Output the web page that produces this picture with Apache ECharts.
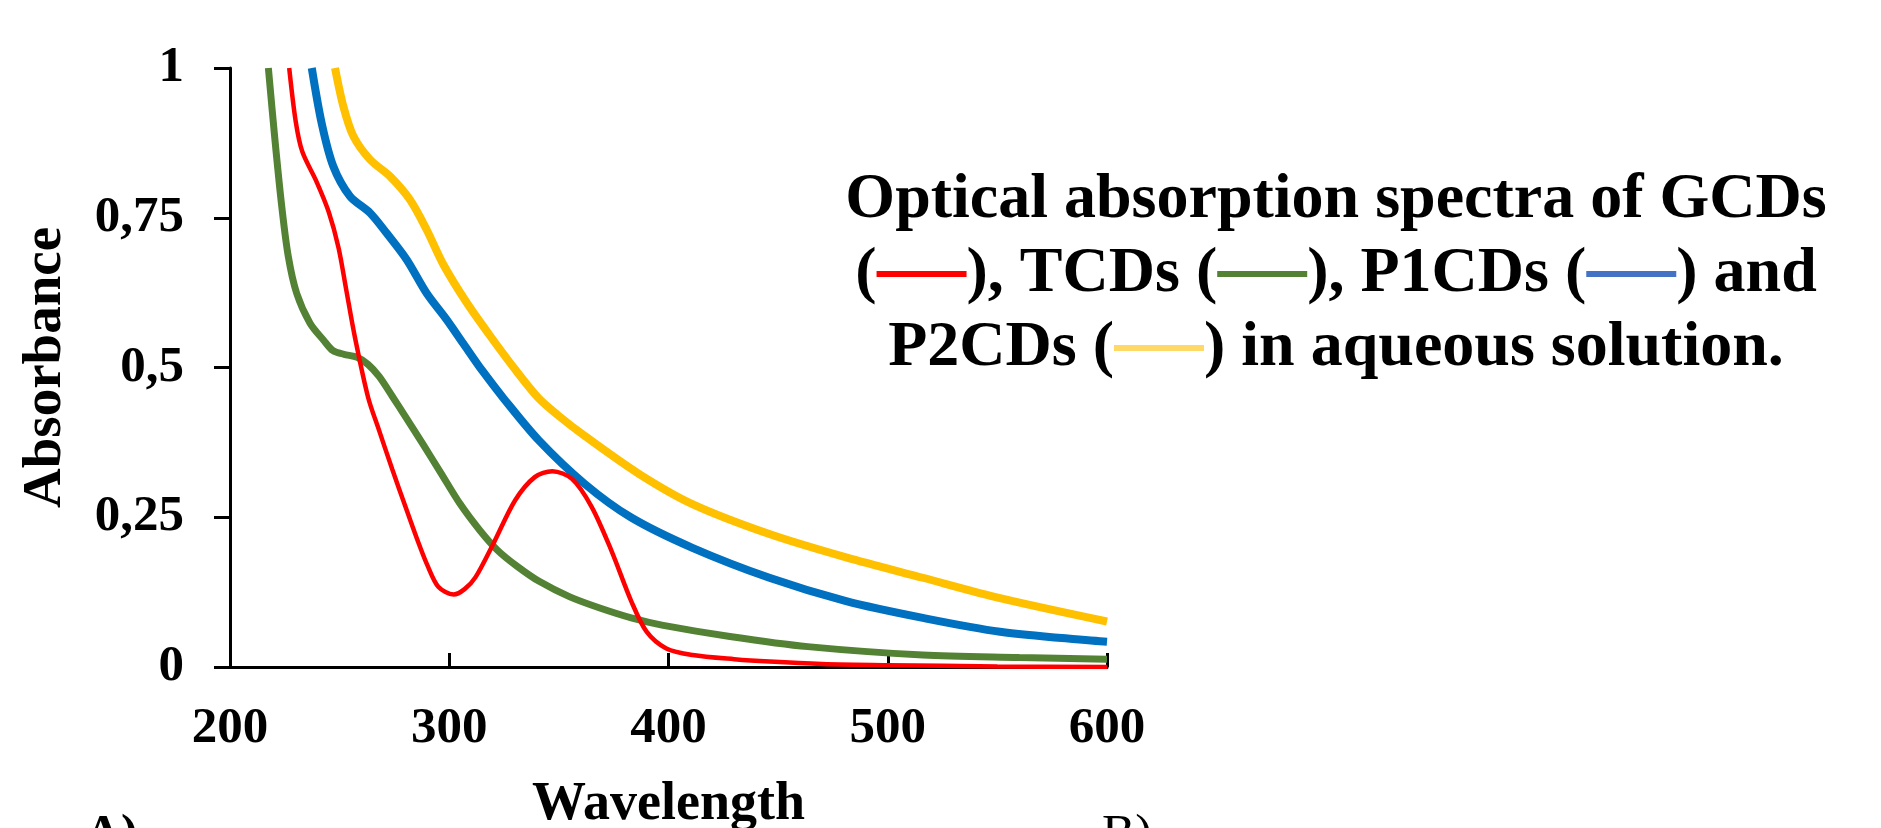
<!DOCTYPE html>
<html>
<head>
<meta charset="utf-8">
<script src="https://cdn.jsdelivr.net/npm/echarts@6/dist/echarts.min.js"></script>
<style>
  html, body { margin: 0; padding: 0; background: #fff; }
  #chart { width: 1881px; height: 828px; }
</style>
</head>
<body>
<div id="chart"></div>
<script>
// wavelength (nm) / absorbance
const gcdWl  = [227, 230, 233, 239.5, 245, 249.5, 253, 257, 263, 268, 274, 280, 286, 290, 295, 302, 307, 312, 320, 330, 339, 347, 356, 365, 374, 383, 390, 399, 411, 430, 446, 470, 500, 550, 600];
const gcdAbs = [1.0, 0.91, 0.86, 0.81, 0.76, 0.70, 0.63, 0.55, 0.45, 0.395, 0.33, 0.268, 0.207, 0.17, 0.134, 0.121, 0.13, 0.15, 0.205, 0.278, 0.317, 0.327, 0.314, 0.267, 0.194, 0.110, 0.059, 0.031, 0.02, 0.013, 0.009, 0.005, 0.003, 0.001, 0.0];

const tcdWl  = [217.5, 220.5, 223.6, 226.6, 230.4, 236.5, 242.6, 247, 252, 258, 263, 268, 274, 280, 288, 296, 305, 314, 322, 331, 341, 355, 369, 383, 397, 428, 463.5, 516, 560, 600];
const tcdAbs = [1.0, 0.88, 0.769, 0.685, 0.624, 0.574, 0.546, 0.528, 0.522, 0.517, 0.505, 0.485, 0.452, 0.418, 0.372, 0.325, 0.272, 0.228, 0.195, 0.168, 0.143, 0.117, 0.098, 0.082, 0.070, 0.051, 0.034, 0.020, 0.016, 0.013];

const p1Wl  = [237.3, 241.8, 247.1, 254.7, 263.9, 271.5, 280.6, 289.7, 298.8, 306.4, 315, 324.9, 340.7, 361.7, 382.8, 410.9, 446, 481, 516, 551.2, 600];
const p1Abs = [1.0, 0.908, 0.836, 0.786, 0.758, 0.724, 0.680, 0.624, 0.580, 0.54, 0.495, 0.448, 0.379, 0.306, 0.250, 0.199, 0.149, 0.110, 0.082, 0.059, 0.042];

const p2Wl  = [247.9, 251.7, 256.3, 263.9, 273, 282.1, 289.7, 297.3, 308, 318.6, 330, 340.7, 350, 361.7, 386.3, 410.9, 446, 481, 516, 551.2, 600];
const p2Abs = [1.0, 0.936, 0.886, 0.847, 0.819, 0.780, 0.73, 0.672, 0.608, 0.553, 0.497, 0.449, 0.419, 0.386, 0.323, 0.272, 0.222, 0.183, 0.149, 0.115, 0.076];

const FONT = "'Liberation Serif', 'Times New Roman', serif";

function pairs(xs, ys) {
  return xs.map((x, i) => [x, ys[i]]);
}

function curve(name, xs, ys, color, width) {
  return {
    name: name,
    type: 'line',
    data: pairs(xs, ys),
    showSymbol: false,
    symbol: 'none',
    smooth: 0.3,
    clip: true,
    lineStyle: { color: color, width: width },
    itemStyle: { color: color }
  };
}

const tStyle = { fontFamily: FONT, fontWeight: 'bold', fontSize: 64, lineHeight: 74, color: '#000', align: 'center' };
function box(color) {
  return { width: 90, height: 6, lineHeight: 74, backgroundColor: color, align: 'center' };
}

const chart = echarts.init(document.getElementById('chart'));
chart.setOption({
  animation: false,
  backgroundColor: '#fff',
  grid: { left: 230, right: 774, top: 68, bottom: 161, outerBoundsMode: 'none' },
  xAxis: {
    type: 'value',
    min: 200, max: 600, interval: 100,
    name: 'Wavelength',
    nameLocation: 'middle',
    nameGap: 111,
    nameTextStyle: { fontFamily: FONT, fontWeight: 'bold', fontSize: 54, color: '#000' },
    axisLine: { show: true, onZero: false, lineStyle: { color: '#000', width: 3 } },
    axisTick: { show: true, inside: true, length: 14, lineStyle: { color: '#000', width: 3 } },
    axisLabel: { fontFamily: FONT, fontWeight: 'bold', fontSize: 51, color: '#000', margin: 36, showMinLabel: true, showMaxLabel: true },
    splitLine: { show: false }
  },
  yAxis: {
    type: 'value',
    min: 0, max: 1, interval: 0.25,
    name: 'Absorbance',
    nameLocation: 'middle',
    nameRotate: 90,
    nameGap: 157,
    nameTextStyle: { fontFamily: FONT, fontWeight: 'bold', fontSize: 55, color: '#000' },
    axisLine: { show: true, lineStyle: { color: '#000', width: 3 } },
    axisTick: { show: true, inside: false, length: 16, lineStyle: { color: '#000', width: 3 } },
    axisLabel: {
      fontFamily: FONT, fontWeight: 'bold', fontSize: 51, color: '#000', margin: 46,
      showMinLabel: true, showMaxLabel: true,
      formatter: v => String(v).replace('.', ',')
    },
    splitLine: { show: false }
  },
  graphic: [
    {
      type: 'text',
      x: 1336, y: 163,
      style: {
        text: '{t|Optical absorption spectra of GCDs}\n' +
              '{t|(}{r| }{t|), TCDs (}{g| }{t|), P1CDs (}{b| }{t|) and}\n' +
              '{t|P2CDs (}{y| }{t|) in aqueous solution.}',
        align: 'center',
        verticalAlign: 'top',
        fontFamily: FONT, fontWeight: 'bold', fontSize: 64, lineHeight: 74,
        fill: '#000',
        rich: {
          t: tStyle,
          r: box('#FF0000'),
          g: box('#548235'),
          b: box('#4472C4'),
          y: box('#FFD966')
        }
      }
    },
    {
      type: 'text', x: 85, y: 836,
      style: { text: 'A)', fontFamily: FONT, fontWeight: 'bold', fontSize: 50, fill: '#000', verticalAlign: 'middle' }
    },
    {
      type: 'text', x: 1102, y: 836,
      style: { text: 'B)', fontFamily: FONT, fontSize: 50, fill: '#000', verticalAlign: 'middle' }
    }
  ],
  series: [
    curve('TCDs', tcdWl, tcdAbs, '#548235', 7),
    curve('P1CDs', p1Wl, p1Abs, '#0070C0', 8),
    curve('P2CDs', p2Wl, p2Abs, '#FFC000', 8),
    curve('GCDs', gcdWl, gcdAbs, '#FF0000', 4.5)
  ]
});
</script>
</body>
</html>
